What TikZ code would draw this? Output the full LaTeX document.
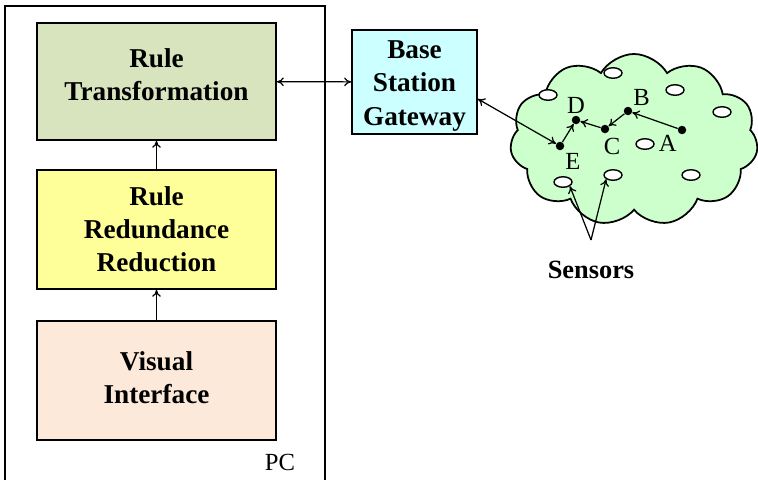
\documentclass[tikz,border=0pt]{standalone}
\usepackage{fontspec}
\setmainfont{Liberation Serif}
\usetikzlibrary{shapes.symbols,shapes.geometric,arrows.meta}

\definecolor{transgreen}{HTML}{D7E4BD}
\definecolor{redyellow}{HTML}{FFFF99}
\definecolor{visualpink}{HTML}{FDE9D9}
\definecolor{gwcyan}{HTML}{CCFFFF}
\definecolor{cloudgreen}{HTML}{CCFFCC}

\tikzset{
  module/.style={draw,line width=1pt,minimum width=4.78cm,minimum height=2.38cm,
    align=center,font=\fontsize{15.5}{18.8}\selectfont\bfseries},
  boxtext/.style={align=center,font=\fontsize{15.5}{18.8}\selectfont\bfseries},
  sensor/.style={ellipse,draw,fill=white,line width=0.8pt,minimum width=0.36cm,
    minimum height=0.21cm,inner sep=0pt},
  hop/.style={circle,fill=black,minimum size=0.17cm,inner sep=0pt},
  hoplabel/.style={inner sep=1pt,font=\fontsize{14}{16}\selectfont},
  conn/.style={line width=0.7pt,-{To[length=4pt,width=5pt]}},
  biconn/.style={line width=0.7pt,{To[length=4pt,width=5pt]}-{To[length=4pt,width=5pt]}},
}

\begin{document}
\begin{tikzpicture}
\useasboundingbox (0,0) rectangle (15.16,9.6);

% PC frame (runs off the bottom)
\draw[line width=0.8pt] (0.1,0) |- (6.5,9.48) -- (6.5,0);
\node (pc) at (5.6,0.36) {\fontsize{14}{16}\selectfont PC};

% Modules on the PC
\node[module,fill=transgreen,minimum height=2.34cm] (trans) at (3.13,7.97) {};
\node[boxtext] (transtxt) at ([yshift=0.13cm]trans.center) {Rule\\Transformation};
\node[module,fill=redyellow] (redund) at (3.13,5.01) {Rule\\Redundance\\Reduction};
\node[module,fill=visualpink] (visual) at (3.13,1.99) {};
\node[boxtext] (visualtxt) at ([yshift=0.06cm]visual.center) {Visual\\Interface};

\draw[conn] (visual) -- (redund);
\draw[conn] (redund) -- (trans);

% Gateway
\node[module,fill=gwcyan,minimum width=2.5cm,minimum height=2.08cm] (gw) at (8.29,7.96) {};
\node[boxtext] (gwtxt) at ([yshift=-0.08cm]gw.center) {Base\\Station\\Gateway};
\draw[biconn] (trans) -- (gw);

% Sensor field
\node[cloud,draw,fill=cloudgreen,line width=1pt,cloud puffs=11,cloud puff arc=120,
  cloud ignores aspect,minimum width=4.96cm,minimum height=3.44cm] (field) at (12.68,6.8) {};

\node[sensor] (s1) at (10.96,7.7) {};
\node[sensor] (s2) at (12.26,8.14) {};
\node[sensor] (s3) at (13.5,7.8) {};
\node[sensor] (s4) at (14.44,7.36) {};
\node[sensor] (s5) at (12.9,6.72) {};
\node[sensor] (s6) at (11.26,5.96) {};
\node[sensor] (s7) at (12.26,6.1) {};
\node[sensor] (s8) at (13.82,6.1) {};

% Route A -> B -> C -> D -> E
\node[hop,label={[hoplabel]below left:A}] (a) at (13.64,7.0) {};
\node[hop,label={[hoplabel]above right:B}] (b) at (12.56,7.38) {};
\node[hop,label={[hoplabel,xshift=0.14cm,yshift=-0.04cm]below:C}] (c) at (12.1,7.02) {};
\node[hop,label={[hoplabel]above:D}] (d) at (11.52,7.2) {};
\node[hop,label={[hoplabel,yshift=-0.04cm]below right:E}] (e) at (11.2,6.68) {};

\draw[conn] (a) -- (b);
\draw[conn] (b) -- (c);
\draw[conn] (c) -- (d);
\draw[conn] (e) -- (d);
\draw[biconn] (gw.-15) -- (e);

% Sensors label
\node[font=\fontsize{15}{18}\selectfont\bfseries] (sens) at (11.82,4.2) {Sensors};
\coordinate (apex) at (11.82,4.8);
\draw[conn] (apex) -- (s6.south east);
\draw[conn] (apex) -- (s7.south west);
\end{tikzpicture}
\end{document}
